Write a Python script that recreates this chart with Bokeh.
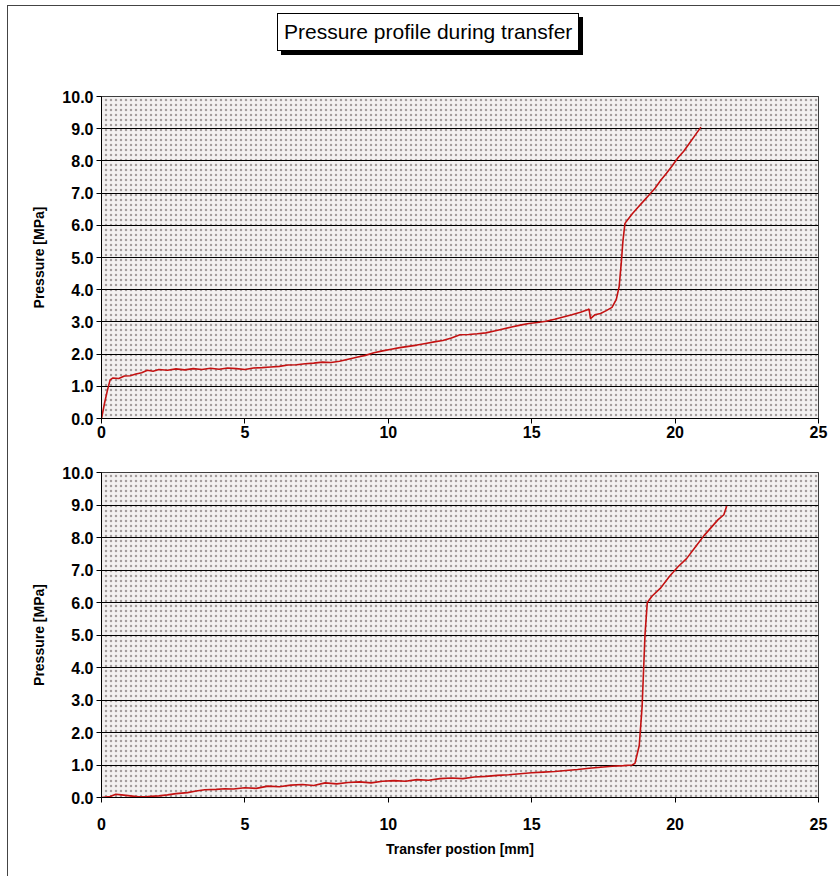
from bokeh.plotting import figure
from bokeh.layouts import column
from bokeh.models import Range1d, FixedTicker, PrintfTickFormatter, Div, BoxAnnotation
from bokeh.embed import file_html
from bokeh.resources import INLINE

# ---------------- data ----------------
title_text = "Pressure profile during transfer"
y_label = "Pressure [MPa]"
x_label = "Transfer postion [mm]"
x_ticks = [0, 5, 10, 15, 20, 25]
y_ticks = [0, 1, 2, 3, 4, 5, 6, 7, 8, 9, 10]

top_x = [0.0, 0.1, 0.2, 0.3, 0.4, 0.6, 0.8, 1.0, 1.2, 1.4, 1.6, 1.8, 2.0, 2.3, 2.6, 2.9,
         3.2, 3.5, 3.8, 4.1, 4.4, 4.7, 5.0, 5.3, 5.6, 5.9, 6.2, 6.5, 6.8, 7.1, 7.4, 7.7,
         8.0, 8.3, 8.6, 8.9, 9.2, 9.5, 9.8, 10.1, 10.4, 10.7, 11.0, 11.3, 11.6, 11.9,
         12.2, 12.5, 12.8, 13.1, 13.4, 13.7, 14.0, 14.3, 14.6, 14.9, 15.2, 15.5, 15.8,
         16.1, 16.4, 16.7, 16.95, 17.0, 17.05, 17.2, 17.4, 17.6, 17.8, 17.95, 18.05,
         18.12, 18.18, 18.25, 18.3, 18.5, 18.7, 18.9, 19.1, 19.3, 19.5, 19.7, 19.9,
         20.1, 20.3, 20.5, 20.7, 20.9]
top_y = [0.0, 0.45, 0.85, 1.2, 1.26, 1.24, 1.32, 1.33, 1.38, 1.42, 1.5, 1.47, 1.52, 1.5,
         1.54, 1.51, 1.55, 1.52, 1.56, 1.53, 1.57, 1.55, 1.52, 1.57, 1.58, 1.6, 1.62,
         1.66, 1.67, 1.7, 1.72, 1.75, 1.74, 1.78, 1.84, 1.9, 1.96, 2.04, 2.1, 2.15, 2.2,
         2.24, 2.28, 2.33, 2.38, 2.42, 2.5, 2.6, 2.61, 2.63, 2.66, 2.72, 2.78, 2.84, 2.9,
         2.95, 2.98, 3.02, 3.08, 3.15, 3.22, 3.3, 3.38, 3.4, 3.1, 3.22, 3.26, 3.35, 3.45,
         3.7, 4.1, 4.8, 5.5, 6.05, 6.12, 6.35, 6.55, 6.75, 6.95, 7.15, 7.4, 7.62, 7.85,
         8.1, 8.3, 8.55, 8.8, 9.05]

bot_x = [0.0, 0.3, 0.5, 0.7, 1.0, 1.3, 1.6, 2.0, 2.3, 2.6, 3.0, 3.3, 3.6, 4.0, 4.3, 4.6,
         5.0, 5.4, 5.8, 6.2, 6.6, 7.0, 7.4, 7.8, 8.2, 8.6, 9.0, 9.4, 9.8, 10.2, 10.6,
         11.0, 11.4, 11.8, 12.2, 12.6, 13.0, 13.4, 13.8, 14.2, 14.6, 15.0, 15.4, 15.8,
         16.2, 16.6, 17.0, 17.4, 17.8, 18.2, 18.5, 18.6, 18.75, 18.85, 18.9, 18.95,
         19.03, 19.2, 19.5, 19.8, 20.1, 20.4, 20.7, 21.0, 21.3, 21.5, 21.7, 21.8]
bot_y = [0.0, 0.03, 0.1, 0.08, 0.05, 0.02, 0.03, 0.05, 0.08, 0.12, 0.15, 0.2, 0.24, 0.25,
         0.27, 0.26, 0.3, 0.28, 0.35, 0.33, 0.38, 0.4, 0.37, 0.45, 0.42, 0.46, 0.48, 0.45,
         0.5, 0.52, 0.5, 0.55, 0.53, 0.58, 0.6, 0.58, 0.63, 0.65, 0.68, 0.7, 0.73, 0.76,
         0.78, 0.8, 0.83, 0.86, 0.9, 0.93, 0.96, 0.98, 1.0, 1.05, 1.6, 2.8, 3.9, 5.0,
         6.0, 6.2, 6.45, 6.8, 7.1, 7.35, 7.7, 8.05, 8.35, 8.55, 8.7, 8.97]

# ---------------- style ----------------
FONT = "Liberation Sans"
NARROW = "'Liberation Sans Narrow', 'Liberation Sans'"
W = 827
LINE = "#c41212"


def make_plot(height, left, top, bottom, xs, ys, tick_standoff, show_xlabel):
    p = figure(width=W, height=height, output_backend="svg", toolbar_location=None,
               x_range=Range1d(0, 25), y_range=Range1d(0, 10),
               min_border_left=left, min_border_right=17,
               min_border_top=top, min_border_bottom=bottom)
    p.background_fill_color = "#f3f1f1"
    p.border_fill_color = "white"
    p.outline_line_color = "black"
    p.outline_line_width = 1
    p.xgrid.visible = False
    p.ygrid.ticker = FixedTicker(ticks=y_ticks)
    p.ygrid.grid_line_color = "black"
    p.ygrid.grid_line_width = 1.2
    p.ygrid.grid_line_alpha = 1.0

    # speckled plot-area texture (covers the whole frame)
    p.add_layout(BoxAnnotation(level="image", fill_color="#f3f1f1", fill_alpha=1.0,
                               line_color=None, hatch_pattern="dot",
                               hatch_color="#a49e9e", hatch_scale=5, hatch_weight=1.6,
                               hatch_alpha=1.0))

    p.xaxis.ticker = FixedTicker(ticks=x_ticks)
    p.yaxis.ticker = FixedTicker(ticks=y_ticks)
    p.yaxis.formatter = PrintfTickFormatter(format="%.1f")
    for ax in (p.xaxis[0], p.yaxis[0]):
        ax.axis_line_color = "black"
        ax.axis_line_width = 1
        ax.major_tick_line_color = "black"
        ax.major_tick_out = 5
        ax.major_tick_in = 0
        ax.minor_tick_line_color = None
        ax.major_label_text_font = FONT
        ax.major_label_text_font_style = "bold"
        ax.major_label_text_font_size = "16px"
        ax.major_label_text_color = "black"
    p.xaxis.major_label_standoff = tick_standoff
    p.yaxis.major_label_standoff = 3

    p.yaxis.axis_label = y_label
    p.yaxis.axis_label_text_font = NARROW
    p.yaxis.axis_label_text_font_style = "bold"
    p.yaxis.axis_label_text_font_size = "14px"
    p.yaxis.axis_label_text_color = "black"
    p.yaxis.axis_label_standoff = 12
    if show_xlabel:
        p.xaxis.axis_label = x_label
        p.xaxis.axis_label_text_font = NARROW
        p.xaxis.axis_label_text_font_style = "bold"
        p.xaxis.axis_label_text_font_size = "14px"
        p.xaxis.axis_label_text_color = "black"
        p.xaxis.axis_label_standoff = 8

    p.line(xs, ys, line_color=LINE, line_width=1.6)
    return p


title_html = (
    "<div style=\"width:%dpx;height:46px;\">"
    "<span style=\"display:inline-block;margin-left:264px;margin-top:2px;"
    "padding:4px 6px;border:1px solid black;box-shadow:4px 4px 0 #000;background:white;"
    "font-family:'Liberation Sans Narrow','Liberation Sans',sans-serif;font-size:21px;"
    "line-height:28px;color:black;white-space:nowrap;\">%s</span></div>" % (W, title_text)
)
title_div = Div(text=title_html, width=W, height=46)

p1 = make_plot(386, 93, 34, 30, top_x, top_y, 2, False)
p2 = make_plot(435, 93, 24, 86, bot_x, bot_y, 15, True)

layout = column(title_div, p1, p2,
                styles={"border": "1px solid #444", "margin-left": "7px",
                        "margin-top": "5px", "background": "white"})

open("out.html", "w").write(file_html(layout, INLINE))
